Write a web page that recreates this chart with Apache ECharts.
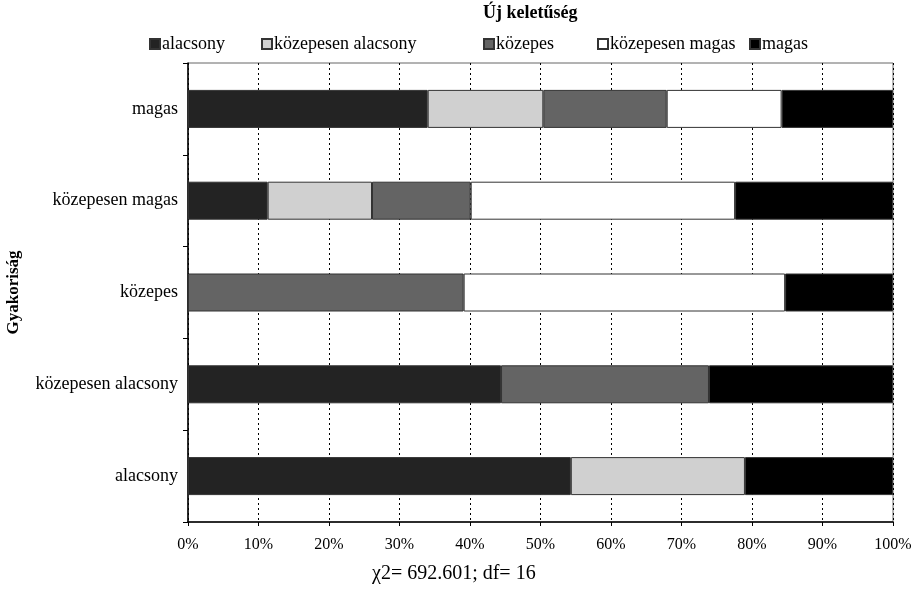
<!DOCTYPE html>
<html><head><meta charset="utf-8">
<script src="https://cdn.jsdelivr.net/npm/echarts@6/dist/echarts.min.js"></script>
<style>html,body{margin:0;padding:0;background:#fff}#c{width:916px;height:592px}</style>
</head><body><div id="c"></div>
<script>
const categories = ['alacsony', 'közepesen alacsony', 'közepes', 'közepesen magas', 'magas'];
const seriesNames = ['alacsony', 'közepesen alacsony', 'közepes', 'közepesen magas', 'magas'];
const sAlacsony = [54.3, 44.4, null, 11.3, 34.0];
const sKozepesenAlacsony = [24.7, null, null, 14.8, 16.4];
const sKozepes = [null, 29.5, 39.1, 14.0, 17.5];
const sKozepesenMagas = [null, null, 45.6, 37.5, 16.3];
const sMagas = [21.0, 26.1, 15.3, 22.4, 15.8];
const seriesColors = ['#232323', '#d0d0d0', '#646464', '#ffffff', '#000000'];
const legendTitle = 'Új keletűség';
const axisTitle = 'Gyakoriság';
const footnote = 'χ2= 692.601; df= 16';

const FONT = '"Liberation Serif", "DejaVu Serif", serif';
const allData = [sAlacsony, sKozepesenAlacsony, sKozepes, sKozepesenMagas, sMagas];
const legendLefts = [144, 256, 478, 592, 744];

const chart = echarts.init(document.getElementById('c'));
chart.setOption({
  animation: false,
  backgroundColor: '#fff',
  textStyle: { fontFamily: FONT },
  grid: { left: 188, right: 23, top: 63, bottom: 70, show: true, borderColor: '#666', borderWidth: 1, containLabel: false, outerBoundsMode: 'none' },
  legend: seriesNames.map((n, i) => ({
    data: [n], left: legendLefts[i], top: 30, itemWidth: 10, itemHeight: 10, icon: 'rect', itemGap: 0,
    textStyle: { fontFamily: FONT, fontSize: 18, color: '#000', padding: [0, 0, 0, -3] }
  })),
  xAxis: {
    type: 'value', min: 0, max: 100, interval: 10,
    axisLine: { show: true, lineStyle: { color: '#000', width: 1.5 } },
    axisTick: { show: true, length: 4, lineStyle: { color: '#000' } },
    axisLabel: { formatter: '{value}%', fontFamily: FONT, fontSize: 16, color: '#000', margin: 15 },
    splitLine: { show: true, lineStyle: { color: '#000', type: [2, 3], width: 1 } }
  },
  yAxis: {
    type: 'category', data: categories,
    name: axisTitle, nameLocation: 'middle', nameRotate: 90, nameGap: 166,
    nameTextStyle: { fontFamily: FONT, fontSize: 17, fontWeight: 'bold', color: '#000' },
    axisLine: { show: true, lineStyle: { color: '#000', width: 1.5 } },
    axisTick: { show: true, length: 5, lineStyle: { color: '#000' } },
    axisLabel: { fontFamily: FONT, fontSize: 18, color: '#000', margin: 10 }
  },
  series: seriesNames.map((n, i) => ({
    name: n, type: 'bar', stack: 'total', barWidth: 38, data: allData[i],
    itemStyle: { color: seriesColors[i], borderColor: '#333', borderWidth: 1 }
  })),
  graphic: [
    { type: 'text', left: 483, top: 4, style: { text: legendTitle, font: 'bold 18px ' + FONT, fill: '#000' } },
    { type: 'text', left: 372, top: 564, style: { text: footnote, font: '20px ' + FONT, fill: '#000' } }
  ]
});
</script></body></html>
